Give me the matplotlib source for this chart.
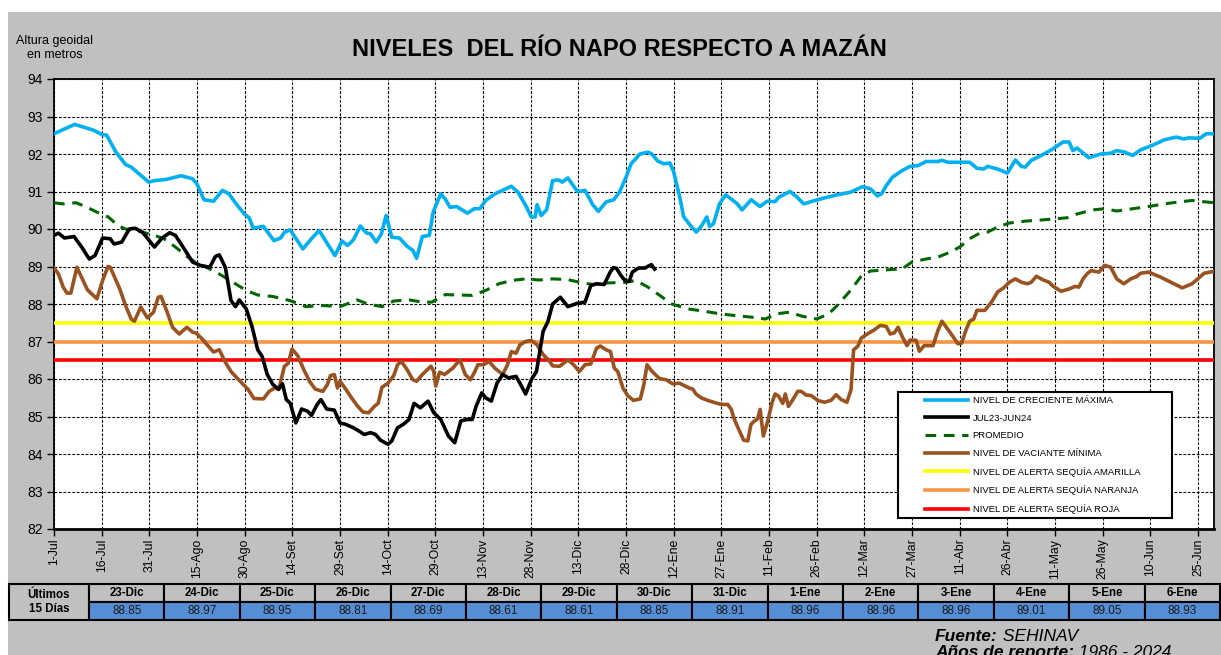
import matplotlib
matplotlib.use("Agg")
import matplotlib.pyplot as plt
from matplotlib.patches import Rectangle

plt.rcParams['font.family'] = ['Liberation Sans', 'DejaVu Sans']

# ---------------- data ----------------
tick_days = list(range(0, 361, 15))
tick_labels = ["1-Jul", "16-Jul", "31-Jul", "15-Ago", "30-Ago", "14-Set", "29-Set", "14-Oct",
               "29-Oct", "13-Nov", "28-Nov", "13-Dic", "28-Dic", "12-Ene", "27-Ene", "11-Feb",
               "26-Feb", "12-Mar", "27-Mar", "11-Abr", "26-Abr", "11-May", "26-May", "10-Jun", "25-Jun"]

max_days = [0, 6.5, 12.3, 15.3, 16.5, 19.5, 22.5, 24.3, 29.8, 31.6, 35.2, 40, 43.6, 45, 47.2, 50.2, 53, 55,
            57.5, 59.9, 61.4, 62.7, 65.9, 69.2, 71.3, 72.5, 74.3, 78.3, 81, 83.4, 86.4, 88.4, 90.6, 92.4,
            94.2, 96.4, 98.4, 99.6, 101.4, 103, 104.5, 106.3, 108.7, 111.1, 112.9, 114.1, 115.9, 118.1,
            119.3, 121.7, 123.1, 124.6, 126.7, 130.1, 132.2, 134, 135.8, 138.8, 143.9, 146, 148.4, 150.2,
            151.4, 152, 153.3, 155, 156.9, 158.7, 159.9, 161.7, 164.7, 167.1, 169.5, 171.3, 173.7, 176.1,
            177.9, 179.8, 181.6, 184.4, 186.9, 188.1, 190, 191.9, 193.8, 195, 196.9, 198.1, 200, 202.1,
            203.8, 205.4, 206.3, 207.5, 209.4, 211.3, 213.1, 215, 216.5, 219.4, 222.1, 224.4, 226.9, 228.1,
            231.6, 233.8, 235.9, 239.4, 242.5, 246.3, 250.6, 254.4, 256.9, 259.1, 260.4, 261.9, 263.8,
            266.9, 269.4, 271.9, 274.4, 278.1, 279.4, 281.3, 288.1, 290.4, 292.5, 293.8, 296.9, 300, 302.5,
            304.4, 305.6, 307.5, 310.6, 313.8, 317.5, 319.4, 320.6, 321.9, 325.6, 329.4, 332.5, 334.4,
            336.9, 339.4, 341.9, 345.6, 349.4, 353.1, 355.6, 356.9, 360.6, 362.5, 365]
max_vals = [92.54, 92.79, 92.64, 92.51, 92.51, 92.05, 91.72, 91.65, 91.25, 91.29, 91.32, 91.42, 91.34, 91.20,
            90.78, 90.74, 91.03, 90.94, 90.65, 90.40, 90.30, 90.02, 90.07, 89.69, 89.76, 89.91, 89.98, 89.47,
            89.74, 89.96, 89.56, 89.29, 89.68, 89.56, 89.71, 90.08, 89.89, 89.87, 89.65, 89.87, 90.36, 89.78,
            89.76, 89.54, 89.43, 89.22, 89.80, 89.83, 90.45, 90.94, 90.80, 90.58, 90.60, 90.42, 90.54, 90.54,
            90.76, 90.94, 91.14, 90.98, 90.63, 90.32, 90.32, 90.65, 90.36, 90.51, 91.29, 91.31, 91.25, 91.36,
            91.00, 91.03, 90.65, 90.47, 90.72, 90.78, 90.98, 91.34, 91.74, 92.00, 92.05, 92.00, 91.81, 91.74,
            91.76, 91.52, 90.85, 90.33, 90.12, 89.92, 90.09, 90.32, 90.07, 90.14, 90.67, 90.91, 90.80, 90.67,
            90.51, 90.78, 90.60, 90.74, 90.73, 90.85, 91.00, 90.85, 90.67, 90.76, 90.83, 90.91, 90.98, 91.13,
            91.07, 90.88, 90.94, 91.16, 91.38, 91.56, 91.67, 91.69, 91.80, 91.80, 91.83, 91.78, 91.78, 91.62,
            91.60, 91.67, 91.60, 91.49, 91.84, 91.67, 91.65, 91.83, 91.96, 92.11, 92.32, 92.32, 92.09, 92.16,
            91.90, 92.00, 92.02, 92.09, 92.05, 91.96, 92.11, 92.23, 92.38, 92.45, 92.40, 92.43, 92.42, 92.54,
            92.54]

cur_days = [0, 1.4, 3.3, 6.3, 8.7, 11.1, 12.9, 15.3, 17.7, 18.9, 21.3, 23.7, 25.5, 27.9, 31.6, 34, 36.4,
            38.2, 40.6, 43.6, 46, 49, 50.8, 52, 53.9, 55.7, 57.1, 58.3, 60.5, 62.3, 64.1, 65.5, 67.1, 68.9,
            70.7, 71.9, 73.1, 74.3, 76.1, 77.9, 79.8, 81, 82.8, 84, 85.8, 88.2, 90, 91.8, 94.2, 96, 97.6,
            99.6, 101.2, 102.7, 105.1, 106.3, 108.1, 109.9, 111.7, 113.3, 115.3, 117.7, 119.5, 121.7, 124.1,
            126.1, 128, 129.8, 131.6, 132.8, 134.6, 135.8, 137.6, 139.4, 141.2, 143, 145.4, 146.6, 148.4,
            150.2, 151.8, 152.7, 153.9, 155.4, 156.9, 159.3, 161.7, 164.7, 167.1, 168.9, 170.7, 173.1,
            175, 176, 177, 178, 179, 180, 181, 182, 183, 184, 185, 186, 187, 188, 189]
cur_vals = [89.83, 89.89, 89.76, 89.80, 89.52, 89.20, 89.29, 89.76, 89.74, 89.60, 89.65, 90.00, 90.02, 89.91,
            89.52, 89.76, 89.90, 89.83, 89.52, 89.12, 89.03, 88.98, 89.27, 89.31, 88.98, 88.09, 87.93, 88.11,
            87.87, 87.40, 86.78, 86.60, 86.12, 85.85, 85.73, 85.87, 85.45, 85.36, 84.83, 85.20, 85.14, 85.03,
            85.32, 85.45, 85.20, 85.17, 84.83, 84.79, 84.70, 84.61, 84.52, 84.57, 84.52, 84.37, 84.26, 84.35,
            84.70, 84.79, 84.92, 85.35, 85.23, 85.41, 85.10, 84.92, 84.48, 84.30, 84.88, 84.92, 84.92, 85.27,
            85.63, 85.50, 85.41, 85.89, 86.12, 86.03, 86.07, 85.89, 85.60, 85.98, 86.20, 86.65, 87.27, 87.53,
            88.00, 88.18, 87.93, 88.02, 88.05, 88.49, 88.54, 88.52,
            88.85, 88.97, 88.95, 88.81, 88.69, 88.61, 88.61, 88.85, 88.91, 88.96, 88.96, 88.96, 89.01, 89.05,
            88.93]

avg_days = [0, 2.7, 6.9, 9.9, 13.5, 17.1, 20.1, 22.5, 26.7, 31.6, 34.6, 38.2, 41.8, 44.8, 48.4, 52, 56.3,
            60.5, 64.1, 68.9, 74.3, 79.2, 84.6, 90, 95.4, 99, 103.3, 106.9, 111.7, 115.9, 118.9, 123.1, 127.3,
            131.6, 135.8, 140, 144.2, 148.4, 152.7, 156.9, 161.7, 165.3, 169.5, 173.7, 180, 183.1, 186.9,
            190.6, 194.4, 199.4, 204.4, 209.4, 214.4, 219.4, 223.8, 227.5, 231.3, 235.6, 240, 243.8, 246.9,
            250.6, 253.8, 256.9, 261.9, 266.9, 270, 274.4, 278.1, 281.9, 285, 288.1, 291.3, 293.8, 296.9,
            300.6, 305.6, 310.6, 315, 318.8, 321.9, 326.9, 330.6, 334.4, 339.4, 344.4, 349.4, 353.8, 358.1, 365]
avg_vals = [90.70, 90.67, 90.70, 90.60, 90.45, 90.32, 90.09, 90.00, 89.94, 89.83, 89.74, 89.52, 89.27, 89.09,
            88.96, 88.80, 88.58, 88.36, 88.24, 88.20, 88.09, 87.93, 87.96, 87.93, 88.11, 87.99, 87.93, 88.08,
            88.11, 88.05, 88.05, 88.25, 88.24, 88.23, 88.36, 88.54, 88.63, 88.67, 88.64, 88.67, 88.65, 88.58,
            88.52, 88.56, 88.58, 88.63, 88.45, 88.23, 88.00, 87.87, 87.81, 87.74, 87.69, 87.65, 87.60, 87.74,
            87.78, 87.67, 87.60, 87.74, 88.00, 88.36, 88.72, 88.88, 88.91, 88.94, 89.12, 89.20, 89.25, 89.38,
            89.52, 89.74, 89.89, 89.92, 90.05, 90.16, 90.21, 90.24, 90.27, 90.30, 90.40, 90.51, 90.54, 90.48,
            90.54, 90.60, 90.67, 90.72, 90.76, 90.70]

min_days = [0, 1.4, 2.9, 4.1, 5.3, 7.2, 8.9, 10.5, 13.5, 15.3, 17, 17.7, 20.7, 22.5, 24.3, 25.3, 27.3, 29.4,
            31.3, 32.8, 33.7, 35.8, 37.3, 39.4, 41.8, 43.6, 44.8, 46.6, 48.4, 50.2, 52, 53.9, 55.7, 58.1,
            61.1, 62.9, 65.9, 67.7, 69.5, 70.7, 72.5, 73.7, 74.9, 76.7, 78.6, 80.4, 82.2, 84.6, 86, 87, 88.2,
            89.2, 90, 91.8, 93.6, 95.4, 97.2, 99, 100.8, 102, 103.2, 105.1, 106.9, 108.1, 109.3, 111.1, 112.9,
            114.1, 115.9, 118.6, 119.5, 120.1, 121.3, 122.9, 125.5, 127.7, 129.4, 131, 132.2, 133.4, 135.2,
            136.9, 138.7, 141.2, 142.7, 143.9, 145.4, 146.6, 148.4, 150.2, 152, 153.9, 155.7, 156.9, 159.1,
            161.7, 163.5, 165.3, 167.1, 168.9, 170.7, 171.9, 173.7, 175.1, 176.3, 177.4, 179, 180.5, 182.3,
            184.5, 185.6, 186.6, 187.9, 190.5, 192.6, 194.7, 196.8, 198.4, 199.9, 201, 202, 203.6, 205.7,
            208.3, 210.1, 212, 213.1, 214.1, 215.7, 217, 218.3, 219.3, 220.4, 221.4, 222.2, 223.2, 224.6,
            225.9, 226.9, 228, 229.3, 230.1, 231.1, 232.5, 234, 235.1, 236.7, 238.2, 240.3, 242.4, 244.5,
            246.1, 247.7, 249.5, 250.8, 251.6, 252.9, 254, 255.9, 258.1, 260, 261.9, 263.1, 264.4, 265.6,
            266.9, 268.4, 269.4, 271.3, 272.3, 273.8, 276.6, 278.1, 279.4, 281.9, 284.4, 285.6, 286.9, 288.1,
            289.4, 290.4, 292.9, 295, 296.9, 298.8, 300.6, 302.5, 304.4, 306.3, 307.5, 309.1, 311.3, 313.1,
            314.4, 316.9, 319.4, 321.3, 322.5, 323.8, 325, 326.3, 327.5, 328.8, 330.6, 332.5, 334.4, 336.6,
            338.8, 340.6, 341.9, 344.4, 348.1, 351.9, 355, 358.1, 361.9, 365]
min_vals = [88.96, 88.80, 88.45, 88.29, 88.29, 88.98, 88.67, 88.38, 88.14, 88.63, 89.00, 88.98, 88.40, 87.96,
            87.60, 87.54, 87.92, 87.63, 87.78, 88.18, 88.20, 87.74, 87.38, 87.20, 87.38, 87.25, 87.22, 87.07,
            86.89, 86.72, 86.78, 86.45, 86.20, 85.98, 85.72, 85.48, 85.47, 85.67, 85.76, 85.72, 86.34, 86.42,
            86.80, 86.62, 86.25, 85.94, 85.73, 85.67, 85.85, 86.09, 86.12, 85.76, 85.94, 85.73, 85.50, 85.29,
            85.12, 85.10, 85.27, 85.35, 85.78, 85.89, 86.09, 86.38, 86.47, 86.25, 85.98, 85.94, 86.12, 86.34,
            86.20, 85.81, 86.18, 86.12, 86.29, 86.51, 86.12, 85.98, 86.16, 86.38, 86.38, 86.47, 86.29, 86.12,
            86.38, 86.73, 86.69, 86.91, 87.00, 87.03, 86.91, 86.65, 86.50, 86.35, 86.34, 86.51, 86.38, 86.20,
            86.38, 86.40, 86.82, 86.88, 86.78, 86.73, 86.29, 86.20, 85.76, 85.56, 85.43, 85.47, 85.85, 86.38,
            86.23, 86.01, 85.98, 85.87, 85.89, 85.82, 85.76, 85.73, 85.60, 85.50, 85.43, 85.36, 85.32, 85.32,
            85.19, 84.92, 84.61, 84.37, 84.35, 84.79, 84.88, 84.94, 85.19, 84.48, 84.88, 85.36, 85.60, 85.54,
            85.35, 85.60, 85.27, 85.45, 85.67, 85.67, 85.57, 85.56, 85.43, 85.38, 85.43, 85.58, 85.45, 85.38,
            85.72, 86.78, 86.87, 87.09, 87.20, 87.31, 87.43, 87.40, 87.20, 87.23, 87.38, 87.13, 86.89, 87.04,
            87.03, 86.74, 86.89, 86.89, 87.29, 87.54, 87.25, 86.94, 86.96, 87.29, 87.54, 87.60, 87.83, 87.83,
            88.05, 88.32, 88.43, 88.58, 88.67, 88.58, 88.54, 88.58, 88.74, 88.64, 88.58, 88.47, 88.34, 88.40,
            88.47, 88.45, 88.67, 88.80, 88.89, 88.87, 88.85, 89.03, 88.98, 88.67, 88.54, 88.67, 88.73, 88.82,
            88.85, 88.72, 88.56, 88.43, 88.54, 88.82, 88.87]

alert_levels = [87.5, 87.0, 86.5]
alert_labels = ["NIVEL DE ALERTA SEQUÍA AMARILLA", "NIVEL DE ALERTA SEQUÍA NARANJA", "NIVEL DE ALERTA SEQUÍA ROJA"]
alert_colors = ["#FFFF00", "#F79646", "#FF0000"]

table_dates = ["23-Dic", "24-Dic", "25-Dic", "26-Dic", "27-Dic", "28-Dic", "29-Dic", "30-Dic", "31-Dic",
               "1-Ene", "2-Ene", "3-Ene", "4-Ene", "5-Ene", "6-Ene"]
table_vals = [88.85, 88.97, 88.95, 88.81, 88.69, 88.61, 88.61, 88.85, 88.91, 88.96, 88.96, 88.96, 89.01,
              89.05, 88.93]

# ---------------- figure ----------------
W, H = 1221, 655
fig = plt.figure(figsize=(W / 100, H / 100), dpi=100, facecolor="white")

ov = fig.add_axes([0, 0, 1, 1])
ov.set_xlim(0, W)
ov.set_ylim(H, 0)
ov.axis("off")
ov.set_zorder(0)
ov.add_patch(Rectangle((8, 12), W - 8, H - 12, facecolor="#C0C0C0", edgecolor="none"))

L, R, T, B = 54, 1214, 79, 529
ax = fig.add_axes([L / W, 1 - B / H, (R - L) / W, (B - T) / H])
ax.set_zorder(1)
ax.set_facecolor("white")

ax.plot(max_days, max_vals, color="#00B0F0", lw=2.6, label="NIVEL DE CRECIENTE MÁXIMA", zorder=5)
ax.plot(cur_days, cur_vals, color="black", lw=2.6, label="JUL23-JUN24", zorder=6)
ax.plot(avg_days, avg_vals, color="#006600", lw=2.2, ls=(0, (3.5, 2.5)), label="PROMEDIO", zorder=5)
ax.plot(min_days, min_vals, color="#9A5220", lw=2.6, label="NIVEL DE VACIANTE MÍNIMA", zorder=5)
for lvl, lab, col in zip(alert_levels, alert_labels, alert_colors):
    ax.axhline(lvl, color=col, lw=2.6, label=lab, zorder=4)

ax.set_xlim(0, 365)
ax.set_ylim(82, 94)
ax.set_yticks(range(82, 95))
ax.set_xticks(tick_days)
ax.set_xticklabels(tick_labels, rotation=90, fontsize=8.8)
ax.tick_params(axis="y", labelsize=10, length=5, width=1, direction="out", pad=3)
ax.tick_params(axis="x", length=5, width=1, direction="out", pad=2)
ax.grid(True, color="black", lw=0.8, ls=(0, (2.5, 1.5)), zorder=1)
for s in ax.spines.values():
    s.set_color("black")
    s.set_linewidth(1.3)
ax.spines["bottom"].set_linewidth(2)

# legend: separate frame + frameless legend
frame = Rectangle((898, 392), 274, 126, transform=ov.transData, facecolor="white",
                  edgecolor="black", lw=1.5, zorder=9)
ax.add_artist(frame)
leg = ax.legend(loc="upper left", bbox_to_anchor=(922, 393), bbox_transform=ov.transData,
                fontsize=6.8, handlelength=4.55, labelspacing=0.92, borderpad=0.3, handletextpad=0.5,
                frameon=False, borderaxespad=0)
leg.set_zorder(10)

# title & y label
ov.text(619, 50, "NIVELES  DEL RÍO NAPO RESPECTO A MAZÁN", ha="center", va="center",
        fontsize=17, fontweight="bold")
ov.text(55, 41, "Altura geoidal", ha="center", va="center", fontsize=9)
ov.text(55, 55, "en metros", ha="center", va="center", fontsize=9)

# table
top, mid, bot = 584, 602, 620
x0, x1 = 9, 89
colw = (1220 - x1) / 15
ov.add_patch(Rectangle((x0, top), x1 - x0, bot - top, facecolor="#C0C0C0", edgecolor="black", lw=1.5))
ov.text((x0 + x1) / 2, (top + bot) / 2, "Últimos\n15 Días", ha="center", va="center",
        fontsize=8.3, fontweight="bold", linespacing=1.15)
for i, (d, v) in enumerate(zip(table_dates, table_vals)):
    cx = x1 + i * colw
    ov.add_patch(Rectangle((cx, top), colw, mid - top, facecolor="#C0C0C0", edgecolor="black", lw=1.5))
    ov.add_patch(Rectangle((cx, mid), colw, bot - mid, facecolor="#558ED5", edgecolor="black", lw=1.5))
    ov.text(cx + colw / 2, (top + mid) / 2 + 0.5, d, ha="center", va="center", fontsize=8.3, fontweight="bold")
    ov.text(cx + colw / 2, (mid + bot) / 2 + 0.5, f"{v:.2f}", ha="center", va="center", fontsize=8.5,
            color="#1A1A1A")

# footer
t1 = ov.text(935, 641, "Fuente:", ha="left", va="baseline", fontsize=12.5, fontweight="bold", style="italic")
ov.annotate(" SEHINAV", xy=(1, 0), xycoords=t1, ha="left", va="bottom", fontsize=12.5, style="italic")
t2 = ov.text(935, 657, "Años de reporte:", ha="left", va="baseline", fontsize=12.5, fontweight="bold",
             style="italic")
ov.annotate(" 1986 - 2024", xy=(1, 0), xycoords=t2, ha="left", va="bottom", fontsize=12.5, style="italic")

fig.savefig("out.png", dpi=100, facecolor="white")
